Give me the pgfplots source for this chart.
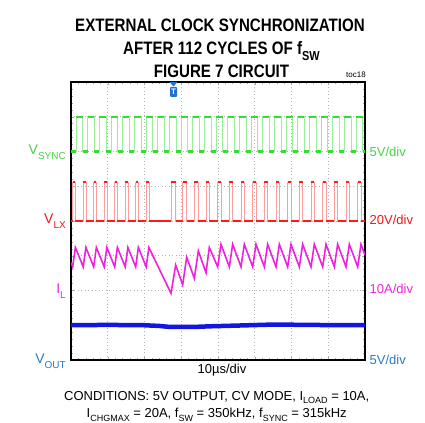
\documentclass[border=0pt]{standalone}
\usepackage{pgfplots}
\pgfplotsset{compat=1.18}
\usepackage{pgfplotstable}
\usepackage{fontspec}
\setmainfont{Liberation Sans}
\newfontfamily\titlefont[FakeStretch=0.84]{Liberation Sans}
\definecolor{tgreen}{HTML}{33DD33}
\definecolor{tgreenl}{HTML}{9BEE9B}
\definecolor{lgreen}{HTML}{44D444}
\definecolor{tred}{HTML}{FF1A1A}
\definecolor{tredl}{HTML}{FF9C9C}
\definecolor{lred}{HTML}{F01515}
\definecolor{tmag}{HTML}{EE22DD}
\definecolor{tblue}{HTML}{1515E0}
\definecolor{lblue}{HTML}{2A78C8}
\definecolor{trigblue}{HTML}{2070D8}
\newcommand\sub[1]{\raisebox{-0.3em}{\fontsize{9bp}{9bp}\selectfont #1}}
\newcommand\lsub[1]{\raisebox{-0.3em}{\fontsize{10bp}{10bp}\selectfont #1}}
\newcommand\lbl{\fontsize{13bp}{15bp}\selectfont}
\newcommand\llbl{\fontsize{14bp}{16bp}\selectfont}

\pgfplotstableread{
t v
0 6
1.36 7
3.16 6
4.54 7
6.34 6
7.71 7
9.51 6
10.89 7
12.69 6
14.06 7
15.86 6
17.24 7
19.04 6
20.41 7
22.21 6
23.59 7
25.39 6
26.76 7
28.56 6
29.94 7
31.74 6
33.11 7
34.91 6
36.29 7
38.09 6
39.46 7
41.26 6
42.64 7
44.44 6
45.81 7
47.61 6
48.99 7
50.79 6
52.16 7
53.96 6
55.34 7
57.14 6
58.51 7
60.31 6
61.69 7
63.49 6
64.86 7
66.66 6
68.04 7
69.84 6
71.21 7
73.01 6
74.39 7
76.19 6
77.56 7
79.36 6
80 6
}\sync

\pgfplotstableread{
t v
0 4
0.46 5.12
1.19 4
3.32 5.12
4.05 4
6.17 5.12
6.90 4
9.03 5.12
9.76 4
11.89 5.12
12.62 4
14.75 5.12
15.48 4
17.60 5.12
18.33 4
20.46 5.12
21.19 4
27.21 5.12
28.49 4
30.39 5.12
31.48 4
33.56 5.12
34.65 4
36.74 5.12
37.64 4
39.91 5.12
40.81 4
43.09 5.12
43.99 4
46.26 5.12
47.16 4
49.44 5.12
50.34 4
52.61 5.12
53.51 4
55.79 5.12
56.69 4
58.96 5.12
59.86 4
62.14 5.12
63.04 4
65.31 5.12
66.21 4
68.49 5.12
69.39 4
71.66 5.12
72.56 4
74.84 5.12
75.74 4
78.01 5.12
78.91 4
80 4
}\vlx

\pgfplotstableread{
t v
0 2.80
0.46 2.68
1.19 3.24
3.32 2.68
4.05 3.24
6.17 2.68
6.90 3.24
9.03 2.68
9.76 3.24
11.89 2.68
12.62 3.24
14.75 2.68
15.48 3.24
17.60 2.68
18.33 3.24
20.46 2.68
21.19 3.24
27.21 1.92
28.49 2.73
30.39 2.16
31.48 2.96
33.56 2.35
34.65 3.14
36.74 2.51
37.64 3.24
39.91 2.68
40.81 3.33
43.09 2.68
43.99 3.33
46.26 2.68
47.16 3.33
49.44 2.68
50.34 3.33
52.61 2.68
53.51 3.33
55.79 2.68
56.69 3.33
58.96 2.68
59.86 3.33
62.14 2.68
63.04 3.33
65.31 2.68
66.21 3.33
68.49 2.68
69.39 3.33
71.66 2.68
72.56 3.33
74.84 2.68
75.74 3.33
78.01 2.68
78.91 3.33
80 3.02
}\il

\pgfplotstableread{
t v
0 1.00
10 1.01
20 1.00
24 0.98
27 0.95
33 0.95
38 0.97
45 0.99
55 1.02
65 1.01
75 1.00
80 1.00
}\vout

\begin{document}
\begin{tikzpicture}
\path (0,0) rectangle (425bp,423bp);
\begin{axis}[
  at={(71bp,63bp)}, anchor=south west,
  width=294bp, height=278bp, scale only axis,
  xmin=0, xmax=80, ymin=0, ymax=8,
  xtick={0,10,...,80}, ytick={0,1,...,8},
  xticklabels={}, yticklabels={},
  minor tick num=4, tick align=inside,
  major tick length=3bp, minor tick length=2bp,
  every tick/.style={gray!70, line width=0.4pt},
  grid=major,
  major grid style={gray!60, line width=0.7pt, dash pattern=on 0.7pt off 2.8pt},
  axis line style={black, line width=1.1pt},
  clip=true,
]
\addplot[tblue, line width=4.5bp, line join=round] table[x=t,y=v] {\vout};
\addplot[tmag, line width=1.6bp, line join=miter] table[x=t,y=v] {\il};
\addplot[tredl, line width=0.6bp, const plot mark left] table[x=t,y=v] {\vlx};
\addplot[tred, line width=2.2bp, jump mark left] table[x=t,y=v] {\vlx};
\addplot[tgreenl, line width=0.6bp, const plot mark left] table[x=t,y=v] {\sync};
\addplot[tgreen, line width=2.2bp, jump mark left] table[x=t,y=v] {\sync};
\end{axis}

% titles
\node[anchor=base, font=\titlefont\bfseries\fontsize{18bp}{18bp}\selectfont] at (220bp,391.3bp) {EXTERNAL CLOCK SYNCHRONIZATION};
\node[anchor=base, font=\titlefont\bfseries\fontsize{18bp}{18bp}\selectfont] at (221.5bp,368bp) {AFTER 112 CYCLES OF f\raisebox{-0.3em}{\fontsize{13bp}{13bp}\selectfont SW}};
\node[anchor=base, font=\titlefont\bfseries\fontsize{18bp}{18bp}\selectfont] at (221.5bp,345.3bp) {FIGURE 7 CIRCUIT};
\node[anchor=base east, inner sep=0pt, font=\fontsize{8bp}{8bp}\selectfont] at (366bp,345bp) {toc18};

% trigger marker
\fill[trigblue] (169.5bp,341bp) -- (177.5bp,341bp) -- (173.5bp,336.5bp) -- cycle;
\node[fill=trigblue, rounded corners=1pt, inner sep=0pt, minimum width=7bp, minimum height=10bp, text=white, font=\bfseries\fontsize{8bp}{8bp}\selectfont] at (173.5bp,331bp) {T};

% left labels
\node[anchor=base east, inner sep=0pt, text=lgreen, font=\llbl] at (66bp,268bp) {V\lsub{SYNC}};
\node[anchor=base east, inner sep=0pt, text=lred, font=\llbl] at (66bp,199bp) {V\lsub{LX}};
\node[anchor=base east, inner sep=0pt, text=tmag, font=\llbl] at (66bp,129bp) {I\lsub{L}};
\node[anchor=base east, inner sep=0pt, text=lblue, font=\llbl] at (66bp,59bp) {V\lsub{OUT}};

% right labels
\node[anchor=base west, inner sep=0pt, text=lgreen, font=\lbl] at (369.5bp,266.5bp) {5V/div};
\node[anchor=base west, inner sep=0pt, text=lred, font=\lbl] at (369.5bp,198bp) {20V/div};
\node[anchor=base west, inner sep=0pt, text=tmag, font=\lbl] at (369.5bp,129.5bp) {10A/div};
\node[anchor=base west, inner sep=0pt, text=lblue, font=\lbl] at (369.5bp,58.5bp) {5V/div};

% bottom
\node[anchor=base, inner sep=0pt, font=\lbl] at (222bp,49.7bp) {10µs/div};
\node[anchor=base, inner sep=0pt, font=\lbl] at (216.7bp,23bp) {CONDITIONS: 5V OUTPUT, CV MODE, I\sub{LOAD} = 10A,};
\node[anchor=base, inner sep=0pt, font=\lbl] at (216.7bp,5.5bp) {I\sub{CHGMAX} = 20A, f\sub{SW} = 350kHz, f\sub{SYNC} = 315kHz};
\end{tikzpicture}
\end{document}
